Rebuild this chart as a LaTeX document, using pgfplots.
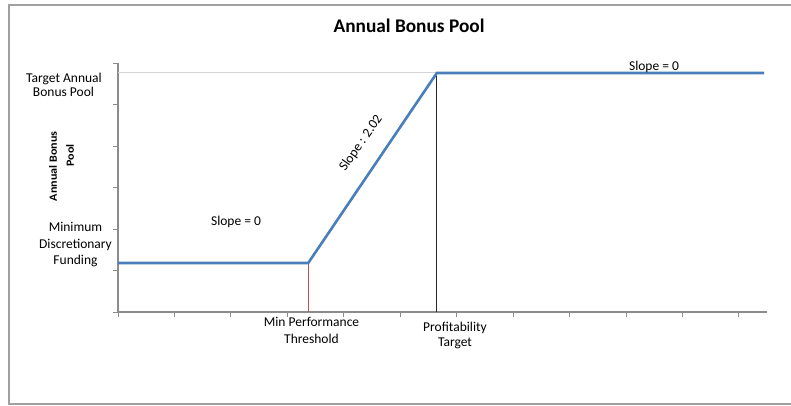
\documentclass[border=0pt]{standalone}
\usepackage{fontspec}
\setmainfont{Carlito}
\usepackage{pgfplots}
\pgfplotsset{compat=1.18}

\definecolor{linblue}{HTML}{4A7EBB}
\definecolor{axgray}{HTML}{8C8C8C}
\definecolor{framegray}{HTML}{A0A0A0}
\definecolor{gridgray}{HTML}{D4D4D4}
\definecolor{minred}{HTML}{C0504D}

\begin{document}
\begin{tikzpicture}[x=1pt,y=1pt]
 \useasboundingbox (0,0) rectangle (791,406);
 % open frame (cut off on the right)
 \draw[framegray, line width=1.6pt] (792,401) -- (9,401) -- (9,2) -- (792,2);

 \begin{axis}[
   at={(118pt,94pt)}, anchor=south west,
   scale only axis, width=649pt, height=249pt,
   xmin=0, xmax=11.5, ymin=0, ymax=6,
   axis lines*=left,
   axis line style={axgray, line width=1.3pt, -},
   xtick={0,...,11}, ytick={0,...,6},
   xticklabels={}, yticklabels={},
   tick align=outside, major tick length=5pt,
   tick style={axgray, line width=0.8pt},
   clip=false
  ]
  % target level gridline
  \addplot[mark=none, gridgray, line width=1pt] coordinates {(0,5.76) (5.65,5.76)};
  % min performance threshold and profitability target
  \addplot[mark=none, minred, line width=1pt] coordinates {(3.37,0) (3.37,1.18)};
  \addplot[mark=none, black!85, line width=1pt] coordinates {(5.65,0) (5.65,5.76)};
  % bonus pool curve
  \addplot[mark=none, linblue, line width=2.6pt] coordinates {(0,1.18) (3.37,1.18) (5.65,5.76) (11.45,5.76)};
 \end{axis}

 \node[anchor=base, font=\fontsize{19.3}{21}\selectfont\bfseries] at (409,373) {Annual Bonus Pool};

 \begin{scope}[every node/.style={anchor=base, font=\fontsize{13.5}{15}\selectfont, inner sep=0pt}]
  \node at (64,323.3) {Target Annual};
  \node at (63.5,309) {Bonus Pool};
  \node at (75.5,174) {Minimum};
  \node at (75.5,157) {Discretionary};
  \node at (75.5,141) {Funding};
  \node at (311.5,79) {Min Performance};
  \node at (311.5,62) {Threshold};
  \node at (455,74) {Profitability};
  \node at (455,59) {Target};
  \node at (236,180) {Slope = 0};
  \node at (654,335) {Slope = 0};
 \end{scope}
 \node[rotate=55, font=\fontsize{13.5}{15}\selectfont, inner sep=0pt] at (361,263) {Slope : 2.02};

 \node[rotate=90, font=\fontsize{11}{12}\selectfont\bfseries, inner sep=0pt] at (53,239.5) {\scalebox{1.1}[1]{Annual Bonus}};
 \node[rotate=90, font=\fontsize{11}{12}\selectfont\bfseries, inner sep=0pt] at (70,250.5) {\scalebox{1.1}[1]{Pool}};
\end{tikzpicture}
\end{document}
